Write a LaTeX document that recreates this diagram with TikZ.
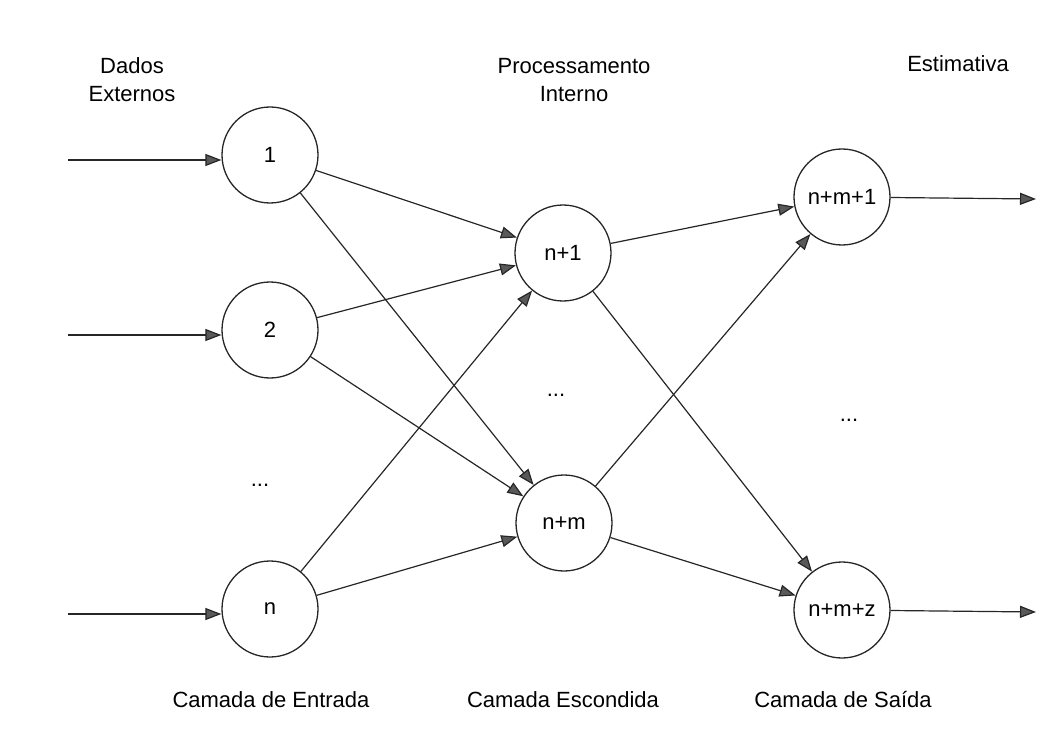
\documentclass[tikz,border=0pt]{standalone}
\usepackage{fontspec}
\setmainfont{Liberation Sans}
\usetikzlibrary{arrows.meta,positioning}

\begin{document}
\begin{tikzpicture}[x=1pt, y=-1pt,
  font=\fontsize{22}{28}\selectfont,
  neuron/.style={draw=black!85, circle, line width=1.3pt, minimum size=96pt, inner sep=0pt},
  lbl/.style={align=center},
  ar/.style={-{Triangle[length=16pt, width=12pt, fill=black!65]}, draw=black!85, line width=1.2pt}
]
\useasboundingbox (0,0) rectangle (1047,738);
% camada de entrada
\node[neuron] (i1) at (270,155) {1};
\node[neuron] (i2) at (270,330) {2};
\node[neuron] (in) at (270,609) {n};
\node (idots) at (260,485) {...};
% camada escondida
\node[neuron] (h1) at (563,253) {n+1};
\node[neuron] (hm) at (564,523) {n+m};
\node (hdots) at (556,395) {...};
% camada de saida
\node[neuron] (o1) at (842,197) {n+m+1};
\node[neuron] (oz) at (842,610) {n+m+z};
\node (odots) at (849,420) {...};
% entradas e saidas
\coordinate (x1) at (68,160);
\coordinate (x2) at (68,335);
\coordinate (xn) at (68,614);
\coordinate (y1) at (1036,199);
\coordinate (yz) at (1036,612);
\draw[ar] (x1) -- (x1 -| i1.west);
\draw[ar] (x2) -- (x2 -| i2.west);
\draw[ar] (xn) -- (xn -| in.west);
\draw[ar] (o1) -- (y1);
\draw[ar] (oz) -- (yz);
\foreach \a in {i1,i2,in} \foreach \b in {h1,hm} \draw[ar] (\a) -- (\b);
\foreach \a in {h1,hm} \foreach \b in {o1,oz} \draw[ar] (\a) -- (\b);
% rotulos
\node[lbl] (dados) at (132,80) {Dados\\Externos};
\node[lbl] (proc) at (574,80) {Processamento\\Interno};
\node[lbl] (est) at (958,64) {Estimativa};
\node (entrada) at (271,700) {Camada de Entrada};
\node (escondida) at (563,700) {Camada Escondida};
\node (saida) at (843,700) {Camada de Saída};
\end{tikzpicture}
\end{document}
